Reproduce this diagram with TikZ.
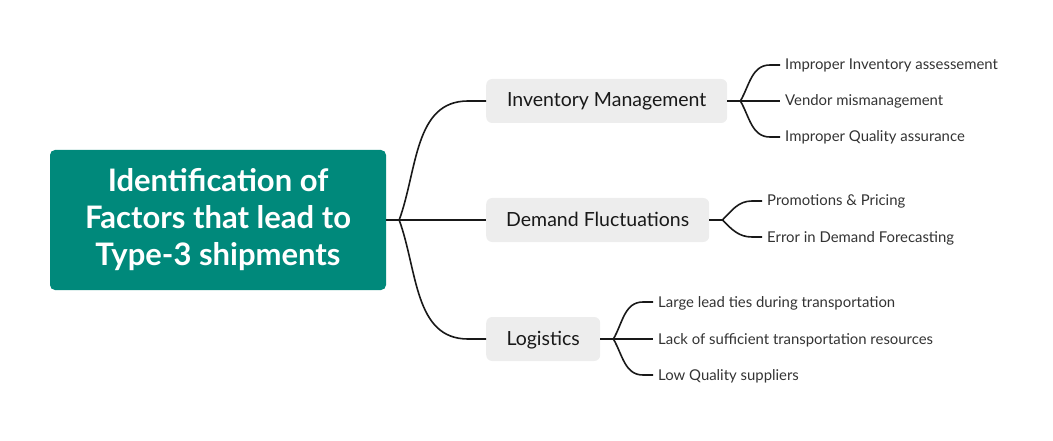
\documentclass[tikz,border=0pt]{standalone}
\usepackage{fontspec}
\setmainfont{Lato}
\usetikzlibrary{positioning}
\definecolor{rootteal}{HTML}{00897B}
\definecolor{boxgrey}{HTML}{EDEDED}
\definecolor{leafgrey}{HTML}{333333}

\begin{document}
\begin{tikzpicture}[x=1pt, y=1pt,
    rootbox/.style={fill=rootteal, rounded corners=5pt, minimum width=336pt, minimum height=140pt, text=white, align=center, font=\fontsize{31}{37}\selectfont\bfseries},
    branchbox/.style={fill=boxgrey, rounded corners=6pt, minimum height=44pt, inner xsep=18pt, anchor=west, text=black!90, text height=15pt, text depth=3pt, font=\fontsize{19.5}{22}\selectfont},
    leaf/.style={anchor=west, inner xsep=5pt, inner ysep=0pt, text=leafgrey, text height=12pt, text depth=2pt, font=\fontsize{14.9}{17}\selectfont},
    twig/.style={line width=1.6pt, black!90}]

    \useasboundingbox (0,0) rectangle (1053,440);

    \node[rootbox] (root) at (218,220) {Identification of\\Factors that lead to\\Type-3 shipments};

    \node[branchbox, minimum width=241pt] (inv) at (486,339) {Inventory Management};
    \node[branchbox, minimum width=223pt] (dem) at (486,220) {Demand Fluctuations};
    \node[branchbox, minimum width=114pt] (log) at (486,101) {Logistics};

    \node[leaf] (inv1) at (780,375) {Improper Inventory assessement};
    \node[leaf] (inv2) at (780,339) {Vendor mismanagement};
    \node[leaf] (inv3) at (780,303) {Improper Quality assurance};

    \node[leaf] (dem1) at (762,239) {Promotions \& Pricing};
    \node[leaf] (dem2) at (762,203) {Error in Demand Forecasting};

    \node[leaf] (log1) at (653,138) {Large lead ties during transportation};
    \node[leaf] (log2) at (653,101) {Lack of sufficient transportation resources};
    \node[leaf] (log3) at (653,65) {Low Quality suppliers};

    % root to branches
    \draw[twig] (root.east |- dem.west) -- ++(13,0) coordinate (rj);
    \draw[twig] (rj) to[out=70, in=180] ([xshift=-18pt]inv.west) -- (inv.west);
    \draw[twig] (rj) -- (dem.west);
    \draw[twig] (rj) to[out=-70, in=180] ([xshift=-18pt]log.west) -- (log.west);

    % branches to leaves
    \draw[twig] (inv.east) -- ++(13,0) coordinate (ij);
    \draw[twig] (ij) to[out=60, in=180] ([xshift=-10pt]inv1.west) -- (inv1.west);
    \draw[twig] (ij) -- (inv2.west);
    \draw[twig] (ij) to[out=-60, in=180] ([xshift=-10pt]inv3.west) -- (inv3.west);

    \draw[twig] (dem.east) -- ++(13,0) coordinate (dj);
    \draw[twig] (dj) to[out=45, in=180] ([xshift=-10pt]dem1.west) -- (dem1.west);
    \draw[twig] (dj) to[out=-45, in=180] ([xshift=-10pt]dem2.west) -- (dem2.west);

    \draw[twig] (log.east) -- ++(13,0) coordinate (lj);
    \draw[twig] (lj) to[out=60, in=180] ([xshift=-10pt]log1.west) -- (log1.west);
    \draw[twig] (lj) -- (log2.west);
    \draw[twig] (lj) to[out=-60, in=180] ([xshift=-10pt]log3.west) -- (log3.west);

\end{tikzpicture}
\end{document}
